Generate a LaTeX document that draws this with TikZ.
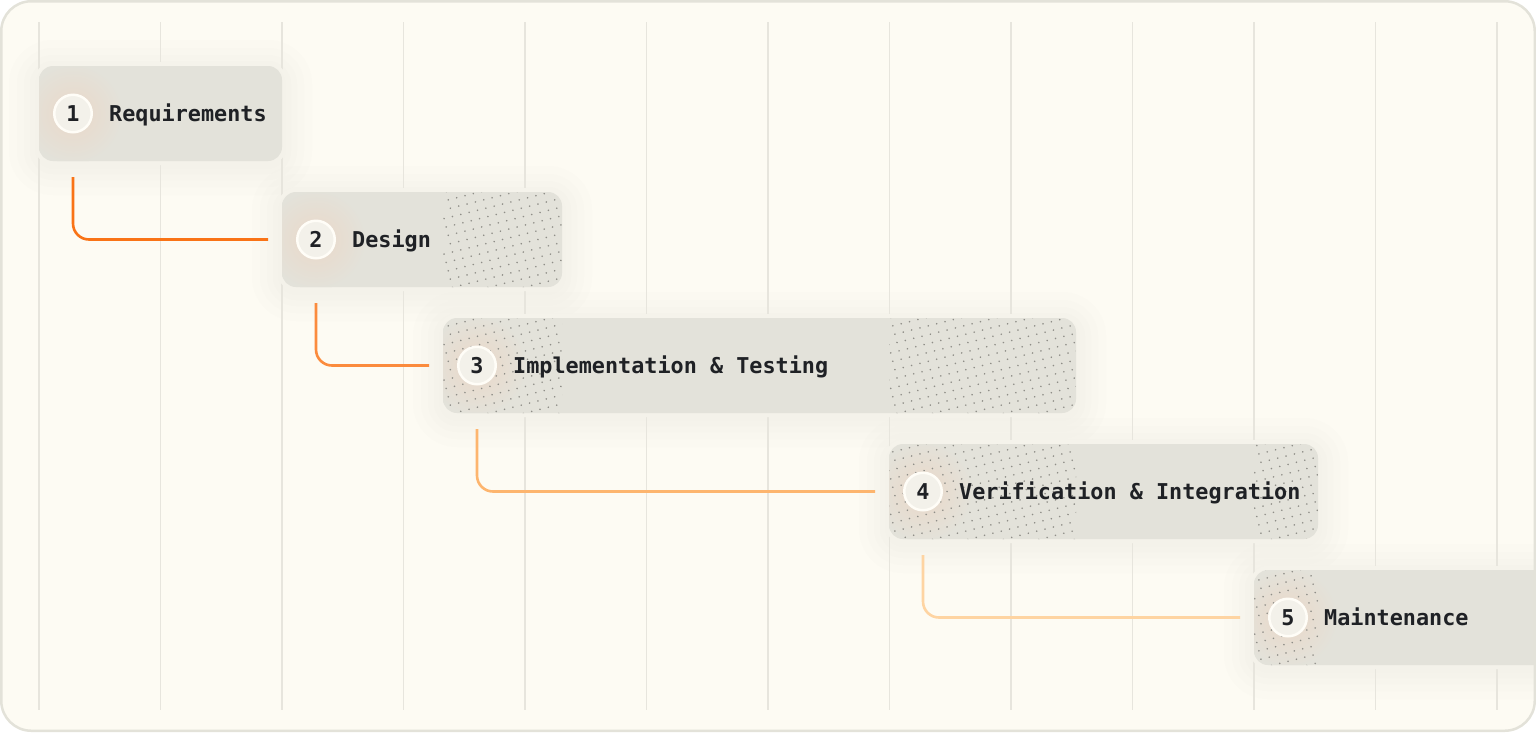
\documentclass[tikz,border=0pt]{standalone}
\usepackage{fontspec}
\setmonofont{DejaVu Sans Mono}
\usepackage{tikz}
\usetikzlibrary{positioning,calc}

% dotted patch on #1, between the x of #2 and #3
\newcommand{\dotpatch}[3]{%
\begin{scope}
\clip[rounded corners=14pt] (#1.north west) rectangle (#1.south east);
\clip (#2 |- #1.north) rectangle (#3 |- #1.south);
\coordinate (pc) at ($(#2 |- #1.center)!0.5!(#3 |- #1.center)$);
\fill[dotColor,shift={(pc)},rotate=14] \foreach \i in {-13,...,13} {\foreach \j in {-13,...,13} {(\i*8.6,\j*8.6) circle (0.9)}};
\end{scope}}

\begin{document}
\begin{tikzpicture}[x=1pt,y=-1pt,
  phase/.style={rectangle,inner sep=0pt,outer sep=0pt,minimum height=95pt},
  numDot/.style={circle,minimum size=37.5pt,inner sep=0pt,fill=dotFill,draw=ringColor,line width=2.5pt,
    font=\ttfamily\bfseries\fontsize{21.8}{24}\selectfont,text=inkColor,text height=15.9pt,text depth=0pt},
  phaseLabel/.style={inner sep=0pt,font=\ttfamily\bfseries\fontsize{21.8}{24}\selectfont,text=inkColor,
    text height=15.9pt,text depth=0pt},
  flow/.style={line width=2.6pt,rounded corners=16pt,shorten >=14pt},
  gridLine/.style={draw=gridColor,line width=1.5pt}]
\definecolor{bgColor}{HTML}{FDFBF3}
\definecolor{frameColor}{HTML}{E3E2D9}
\definecolor{gridColor}{HTML}{E7E5DD}
\definecolor{haloColor}{HTML}{EEECE4}
\definecolor{boxColor}{HTML}{E3E2DA}
\definecolor{glowColor}{HTML}{EAD8C8}
\definecolor{dotFill}{HTML}{F3F1EA}
\definecolor{ringColor}{HTML}{FFFDF7}
\definecolor{inkColor}{HTML}{1F2125}
\definecolor{dotColor}{HTML}{8F8E88}
\definecolor{flowA}{HTML}{F97316}
\definecolor{flowB}{HTML}{FB8B3D}
\definecolor{flowC}{HTML}{FDB56E}
\definecolor{flowD}{HTML}{FED4A2}

\path[use as bounding box] (0,0) rectangle (1536,732);
\fill[bgColor,rounded corners=30pt] (1.25,1.25) rectangle (1534.75,730.75);

\begin{scope}
\clip[rounded corners=30pt] (1.25,1.25) rectangle (1534.75,730.75);

% grid
\foreach \i in {0,...,12}
  \draw[gridLine] (39+121.5*\i,22) -- (39+121.5*\i,710);

% phases
\node[phase,minimum width=243pt] (b1) at (160.5,113.5) {};
\node[phase,minimum width=280pt] (b2) at (422,239.5) {};
\node[phase,minimum width=633pt] (b3) at (759.5,365.5) {};
\node[phase,minimum width=429pt] (b4) at (1103.5,491.5) {};
\node[phase,minimum width=306pt] (b5) at (1407,617.5) {};

% soft halo, then the boxes
\foreach \k in {1,...,5} {
  \fill[bgColor,rounded corners=18pt] ($(b\k.north west)+(-4,-4)$) rectangle ($(b\k.south east)+(4,4)$);
  \foreach \d in {4,9,15,22,30}
    \fill[haloColor,fill opacity=0.12,rounded corners=14+\d]
      ($(b\k.north west)+(-\d,-\d+4)$) rectangle ($(b\k.south east)+(\d,\d+4)$);
}
\foreach \k in {1,...,5}
  \fill[boxColor,rounded corners=14pt] (b\k.north west) rectangle (b\k.south east);

% glow behind the numbers
\foreach \k in {1,...,5} {
  \begin{scope}
  \clip[rounded corners=14pt] (b\k.north west) rectangle (b\k.south east);
  \shade[inner color=glowColor,outer color=boxColor] ($(b\k.west)+(34,0)$) circle (50);
  \end{scope}
}

% overlaps
\dotpatch{b2}{b3.west}{b2.east}
\dotpatch{b3}{b3.west}{b2.east}
\dotpatch{b3}{b4.west}{b3.east}
\dotpatch{b4}{b4.west}{b3.east}
\dotpatch{b4}{b5.west}{b4.east}
\dotpatch{b5}{b5.west}{b4.east}

% numbers and names
\foreach \k/\txt in {1/Requirements,2/Design,3/Implementation \& Testing,4/Verification \& Integration,5/Maintenance} {
  \node[numDot,right=14pt of b\k.west] (n\k) {\k};
  \node[phaseLabel,right=16pt of n\k] (t\k) {\txt};
}

% connectors
\foreach \k/\m/\col in {1/2/flowA,2/3/flowB,3/4/flowC,4/5/flowD}
  \draw[flow,draw=\col] ($(n\k |- b\k.south)+(0,16)$) |- (b\m.west);
\end{scope}

\draw[frameColor,line width=2.5pt,rounded corners=30pt] (1.25,1.25) rectangle (1534.75,730.75);
\end{tikzpicture}
\end{document}
